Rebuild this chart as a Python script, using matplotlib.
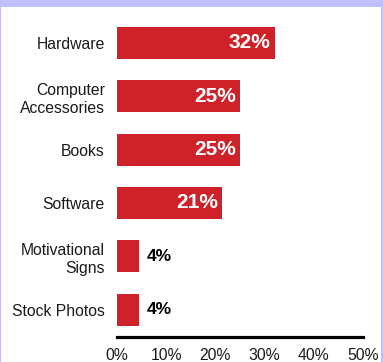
import matplotlib
matplotlib.use("Agg")
import matplotlib.pyplot as plt
from matplotlib.patches import Rectangle

categories = ["Hardware", "Computer\nAccessories", "Books", "Software",
              "Motivational\nSigns", "Stock Photos"]
values = [32.1, 25.0, 25.0, 21.3, 4.4, 4.4]
xticks = [0, 10, 20, 30, 40, 50]
xtick_labels = ["0%", "10%", "20%", "30%", "40%", "50%"]

plt.rcParams['font.family'] = ['Liberation Sans', 'DejaVu Sans']

W, H = 383, 362
fig = plt.figure(figsize=(W / 100, H / 100), dpi=100)
fig.patch.set_facecolor("white")

border = "#C0C0FF"
fig.patches.append(Rectangle((0, 1 - 7 / H), 1, 7 / H, transform=fig.transFigure,
                             facecolor=border, edgecolor="none", zorder=0))
fig.patches.append(Rectangle((0, 0), 1.5 / W, 1, transform=fig.transFigure,
                             facecolor=border, edgecolor="none", zorder=0))
fig.patches.append(Rectangle((1 - 2 / W, 0), 2 / W, 1, transform=fig.transFigure,
                             facecolor=border, edgecolor="none", zorder=0))

left = 117 / W
right = 362.7 / W
bottom = (H - 336.5) / H
top = (H - 16.1) / H
ax = fig.add_axes([left, bottom, right - left, top - bottom])
ax.set_facecolor("white")

ypos = list(range(len(categories)))
ax.barh(ypos, values, height=0.6, color="#CF2129", edgecolor="none")

ax.set_xlim(0, 50)
ax.set_ylim(5.5, -0.5)
ax.set_yticks(ypos)
ax.set_yticklabels(categories, fontsize=11.3, color="#1a1a1a", linespacing=1.3)
ax.set_xticks(xticks)
ax.set_xticklabels(xtick_labels, fontsize=11.3, color="#1a1a1a")
ax.tick_params(axis="y", length=0, pad=8.8)
ax.tick_params(axis="x", length=0, pad=8.5)

for s in ["top", "right", "left"]:
    ax.spines[s].set_visible(False)
ax.spines["bottom"].set_linewidth(2.3)
ax.spines["bottom"].set_color("black")

for y, v in zip(ypos, values):
    label = f"{v:.0f}%"
    if v > 10:
        ax.annotate(label, (v, y), xytext=(-4, 0), textcoords="offset pixels",
                    ha="right", va="center", color="white",
                    fontsize=15, fontweight="bold")
    else:
        ax.annotate(label, (v, y), xytext=(8, 0), textcoords="offset pixels",
                    ha="left", va="center", color="black",
                    fontsize=12.5, fontweight="bold")

fig.savefig("out.png", dpi=100, facecolor=fig.get_facecolor())
